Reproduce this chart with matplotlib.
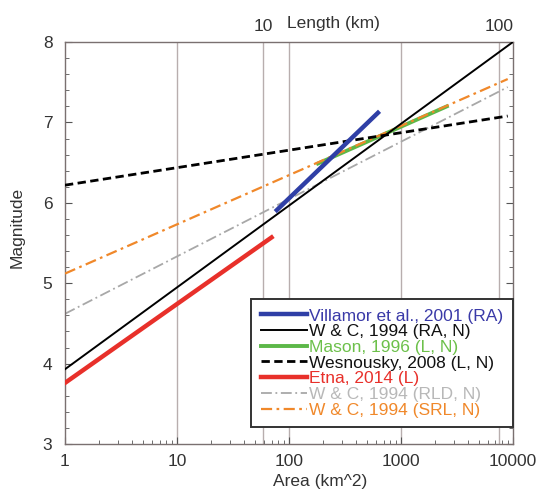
import matplotlib
matplotlib.use("Agg")
import matplotlib.pyplot as plt
from matplotlib.ticker import FixedLocator, LogLocator, MultipleLocator, NullFormatter

plt.rcParams['font.family'] = ['Liberation Sans', 'DejaVu Sans']

# Endpoints of each scaling relation (area km^2, magnitude)
villamor_area = [78, 624]
villamor_mag = [5.91, 7.12]
wc_ra_area = [1, 10000]
wc_ra_mag = [3.93, 8.0]
mason_area = [182, 2570]
mason_mag = [6.49, 7.20]
wesnousky_area = [1, 9000]
wesnousky_mag = [6.22, 7.08]
etna_area = [1, 70]
etna_mag = [3.76, 5.57]
wc_rld_area = [1, 9000]
wc_rld_mag = [4.62, 7.44]
wc_srl_area = [1, 9000]
wc_srl_mag = [5.12, 7.54]

# Length axis (top): tick labels and the area they sit at
length_labels = ['10', '100']
length_area = [59, 7600]

fig = plt.figure(figsize=(5.37, 4.95), dpi=100)
ax = fig.add_axes([0.121, 0.103, 0.834, 0.812])

ax.set_xscale('log')
ax.set_xlim(1, 10000)
ax.set_ylim(3, 8)

# vertical guide lines
for xv in [10, 100, 1000] + length_area:
    ax.axvline(xv, color='#b8aeae', lw=1.0, zorder=0)

ax.plot(wc_rld_area, wc_rld_mag, color='#a8a8a8', lw=1.3, ls=(0, (6, 2, 1, 2)),
        label='W & C, 1994 (RLD, N)', zorder=2)
ax.plot(wc_srl_area, wc_srl_mag, color='#f0882a', lw=1.6, ls=(0, (5, 2, 1.2, 2)),
        label='W & C, 1994 (SRL, N)', zorder=3)
ax.plot(mason_area, mason_mag, color='#5cb848', lw=2.8, label='Mason, 1996 (L, N)', zorder=2.5)
ax.plot(wc_ra_area, wc_ra_mag, color='black', lw=1.4, label='W & C, 1994 (RA, N)', zorder=4)
ax.plot(wesnousky_area, wesnousky_mag, color='black', lw=2.0, ls=(0, (3, 1.6)),
        label='Wesnousky, 2008 (L, N)', zorder=4)
ax.plot(etna_area, etna_mag, color='#e8302a', lw=3.2, label='Etna, 2014 (L)', zorder=5)
ax.plot(villamor_area, villamor_mag, color='#2f3fa6', lw=3.2,
        label='Villamor et al., 2001 (RA)', zorder=5)

# ticks
ax.xaxis.set_major_locator(FixedLocator([1, 10, 100, 1000, 10000]))
ax.set_xticklabels(['1', '10', '100', '1000', '10000'])
ax.xaxis.set_minor_locator(LogLocator(base=10, subs=range(2, 10)))
ax.xaxis.set_minor_formatter(NullFormatter())
ax.yaxis.set_major_locator(MultipleLocator(1))
ax.yaxis.set_minor_locator(MultipleLocator(0.2))
ax.tick_params(which='both', direction='in', right=True, colors='#555555',
               labelcolor='#333333', labelsize=12.5)
ax.tick_params(which='major', length=5, width=0.8)
ax.tick_params(which='minor', length=3, width=0.6)
ax.tick_params(axis='x', which='major', pad=7)
ax.tick_params(axis='y', which='major', pad=9)
for sp in ax.spines.values():
    sp.set_color('#7a7070')
    sp.set_linewidth(1.0)

ax.set_xlabel('Area (km^2)', fontsize=12.5, color='#333333')
ax.xaxis.set_label_coords(0.57, -0.075)
ax.set_ylabel('Magnitude', fontsize=12.5, color='#333333')
ax.yaxis.set_label_coords(-0.09, 0.54)

# top length axis
ax2 = ax.twiny()
ax2.set_xscale('log')
ax2.set_xlim(ax.get_xlim())
ax2.xaxis.set_major_locator(FixedLocator(length_area))
ax2.set_xticklabels(length_labels)
ax2.xaxis.set_minor_locator(FixedLocator([]))
ax2.tick_params(which='both', direction='in', length=0, labelsize=12.5,
                labelcolor='#333333', pad=6)
ax2.set_xlabel('Length (km)', fontsize=12.5, color='#333333')
ax2.xaxis.set_label_coords(0.6, 1.035)
for sp in ax2.spines.values():
    sp.set_visible(False)

# legend in the order of the original
handles, labels = ax.get_legend_handles_labels()
order = ['Villamor et al., 2001 (RA)', 'W & C, 1994 (RA, N)', 'Mason, 1996 (L, N)',
         'Wesnousky, 2008 (L, N)', 'Etna, 2014 (L)', 'W & C, 1994 (RLD, N)',
         'W & C, 1994 (SRL, N)']
hmap = dict(zip(labels, handles))
colors = ['#3a3aa8', '#111111', '#6cc04a', '#111111', '#e8302a', '#b8b8b8', '#f0882a']
leg = ax.legend([hmap[o] for o in order], order, loc='lower right',
                bbox_to_anchor=(1.0, 0.042), borderaxespad=0, fontsize=12.5,
                handlelength=2.7, handletextpad=0.1, labelspacing=0.03,
                borderpad=0.55, fancybox=False, framealpha=1)
leg.get_frame().set_edgecolor('#333333')
leg.get_frame().set_linewidth(1.4)
for t, c in zip(leg.get_texts(), colors):
    t.set_color(c)

fig.savefig('out.png', dpi=100)
